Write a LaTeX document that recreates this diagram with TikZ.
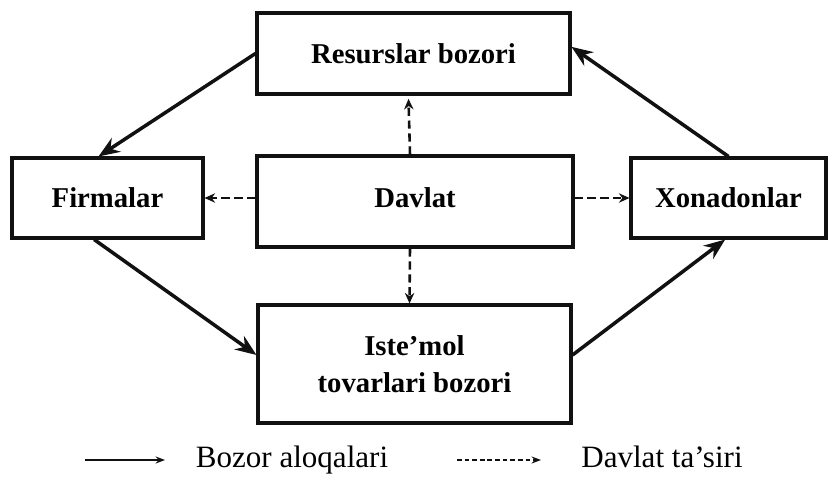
\documentclass[tikz,border=0pt]{standalone}
\usepackage{fontspec}
\setmainfont{Liberation Serif}
\usepackage{xcolor}
\usetikzlibrary{arrows.meta,positioning,calc}
\definecolor{ink}{HTML}{111111}
\tikzset{
  marketbox/.style={draw=ink,line width=2.6pt,align=center,
                    font=\fontsize{24.5}{31.5}\selectfont\bfseries,inner sep=0pt},
  mktarr/.style={-{Stealth[length=18pt,width=14pt]},line width=3pt,color=ink},
  govarr/.style={-{Stealth[length=9pt,width=8pt]},line width=2.2pt,color=ink,
                 dash pattern=on 7pt off 4pt},
  keyarr/.style={-{Stealth[length=8pt,width=6pt]},line width=1.5pt,color=ink},
  keytext/.style={font=\fontsize{26.5}{30}\selectfont,inner sep=0pt,anchor=base}
}
\begin{document}
\begin{tikzpicture}[x=0.03cm,y=-0.03cm]
  \useasboundingbox (0,0) rectangle (831,477);
  \node[marketbox,minimum width=9.39cm,minimum height=2.43cm] (res) at (413.5,53.5)
    {Resurslar bozori};
  \node[marketbox,minimum width=5.73cm,minimum height=2.4cm] (firm) at (107.5,198)
    {Firmalar};
  \node[marketbox,minimum width=9.48cm,minimum height=2.73cm,text depth=0.25cm] (dav) at (415,201.5)
    {Davlat};
  \node[marketbox,minimum width=5.85cm,minimum height=2.4cm] (xon) at (728.5,198)
    {Xonadonlar};
  \node[marketbox,minimum width=9.39cm,minimum height=3.54cm] (ist) at (414.5,364)
    {Iste’mol\\tovarlari bozori};

  % market flows round the ring
  \draw[mktarr] (res.west) -- ([xshift=-0.27cm]firm.north);
  \draw[mktarr] ([xshift=-0.4cm]firm.south) -- ([yshift=0.27cm]ist.west);
  \draw[mktarr] ([yshift=0.27cm]ist.east) -- ([xshift=-0.1cm]xon.south);
  \draw[mktarr] (xon.north) -- ([yshift=0.2cm]res.east);

  % state influence
  \draw[govarr] ([xshift=-0.15cm]dav.north) -- ([xshift=-0.15cm,yshift=-0.1cm]res.south);
  \draw[govarr] ([xshift=-0.15cm]dav.south) -- ([xshift=-0.15cm]ist.north);
  \draw[govarr] (firm.east -| dav.west) -- (firm.east);
  \draw[govarr] (xon.west -| dav.east) -- (xon.west);

  % legend
  \coordinate (ls1) at (85,460);
  \coordinate (ls2) at (165,460);
  \coordinate (ld1) at (457,460);
  \coordinate (ld2) at (541,460);
  \draw[keyarr] (ls1) -- (ls2);
  \draw[keyarr,dash pattern=on 4pt off 2.5pt] (ld1) -- (ld2);
  \node[keytext] (lsol) at (292,467) {Bozor aloqalari};
  \node[keytext] (ldash) at (662,467) {Davlat ta’siri};
\end{tikzpicture}
\end{document}
